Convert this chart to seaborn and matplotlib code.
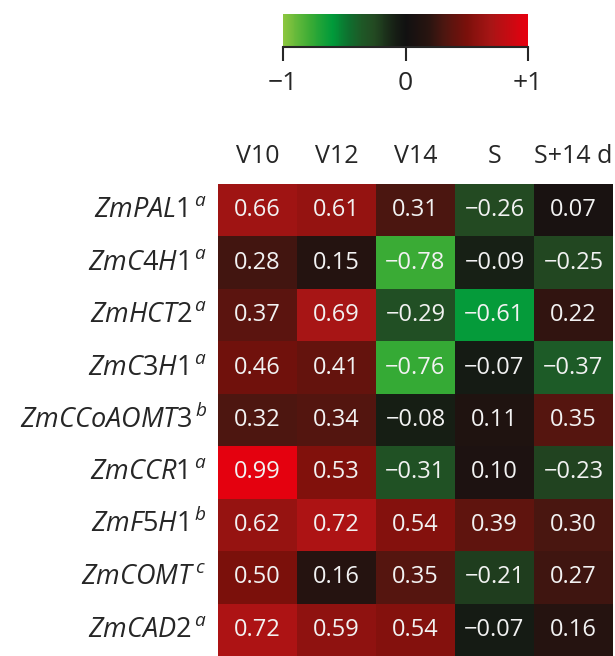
import matplotlib
matplotlib.use("Agg")
import matplotlib.pyplot as plt
import numpy as np
import pandas as pd
import seaborn as sns
from matplotlib.colors import LinearSegmentedColormap

genes = ["ZmPAL1", "ZmC4H1", "ZmHCT2", "ZmC3H1", "ZmCCoAOMT3",
         "ZmCCR1", "ZmF5H1", "ZmCOMT", "ZmCAD2"]
marks = ["a", "a", "a", "a", "b", "a", "b", "c", "a"]
stages = ["V10", "V12", "V14", "S", "S+14 d"]

v10 = [0.66, 0.28, 0.37, 0.46, 0.32, 0.99, 0.62, 0.50, 0.72]
v12 = [0.61, 0.15, 0.69, 0.41, 0.34, 0.53, 0.72, 0.16, 0.59]
v14 = [0.31, -0.78, -0.29, -0.76, -0.08, -0.31, 0.54, 0.35, 0.54]
s = [-0.26, -0.09, -0.61, -0.07, 0.11, 0.10, 0.39, -0.21, -0.07]
s14 = [0.07, -0.25, 0.22, -0.37, 0.35, -0.23, 0.30, 0.27, 0.16]

sns.set_style("white")
plt.rcParams['font.family'] = ['Open Sans', 'DejaVu Sans']
plt.rcParams['mathtext.fontset'] = 'custom'
plt.rcParams['mathtext.it'] = 'Open Sans:italic'
plt.rcParams['mathtext.rm'] = 'Open Sans'

row_labels = [r"$\mathit{%s}^{\,\mathit{%s}}$" % (g, m) for g, m in zip(genes, marks)]
df = pd.DataFrame({"V10": v10, "V12": v12, "V14": v14, "S": s, "S+14 d": s14},
                  index=row_labels)[stages]
annot = df.map(lambda x: f"{x:.2f}".replace("-", "\u2212"))

# green - black - red scale
cmap = LinearSegmentedColormap.from_list("gbr", [
    (0.0, "#8cc63f"),
    (0.11, "#3aab35"),
    (0.2, "#009a3a"),
    (0.27, "#0f6e2e"),
    (0.315, "#1d5a27"),
    (0.37, "#234a22"),
    (0.46, "#161d14"),
    (0.5, "#111111"),
    (0.6, "#2a1410"),
    (0.66, "#4e1610"),
    (0.75, "#7a100b"),
    (0.85, "#a81515"),
    (1.0, "#e6000f"),
])

fig = plt.figure(figsize=(6.15, 6.56), dpi=100)
ax = fig.add_axes([218 / 615, 0.0, 395 / 615, 472 / 656])
cax = fig.add_axes([283 / 615, 1 - 47 / 656, 245 / 615, 33 / 656])

sns.heatmap(df, ax=ax, cmap=cmap, vmin=-1, vmax=1, annot=annot, fmt="",
            cbar=False, linewidths=0,
            annot_kws={"color": "#f2f2f2", "fontsize": 17})

ax.xaxis.tick_top()
ax.set_xlabel("")
ax.set_ylabel("")
ax.tick_params(axis="x", length=0, pad=11, labelsize=18)
ax.tick_params(axis="y", length=0, pad=8, labelsize=19.5)
plt.setp(ax.get_yticklabels(), rotation=0)
plt.setp(ax.get_xticklabels(), rotation=0)

cb = fig.colorbar(ax.collections[0], cax=cax, orientation="horizontal")
cb.outline.set_visible(False)
cb.set_ticks([-1, 0, 1])
cb.set_ticklabels(["\u22121", "0", "+1"])
cax.spines["bottom"].set_visible(True)
cax.spines["bottom"].set_linewidth(1.5)
cax.tick_params(axis="x", direction="out", length=10, width=1.5, labelsize=19, pad=7)

fig.savefig("out.png", dpi=100)
